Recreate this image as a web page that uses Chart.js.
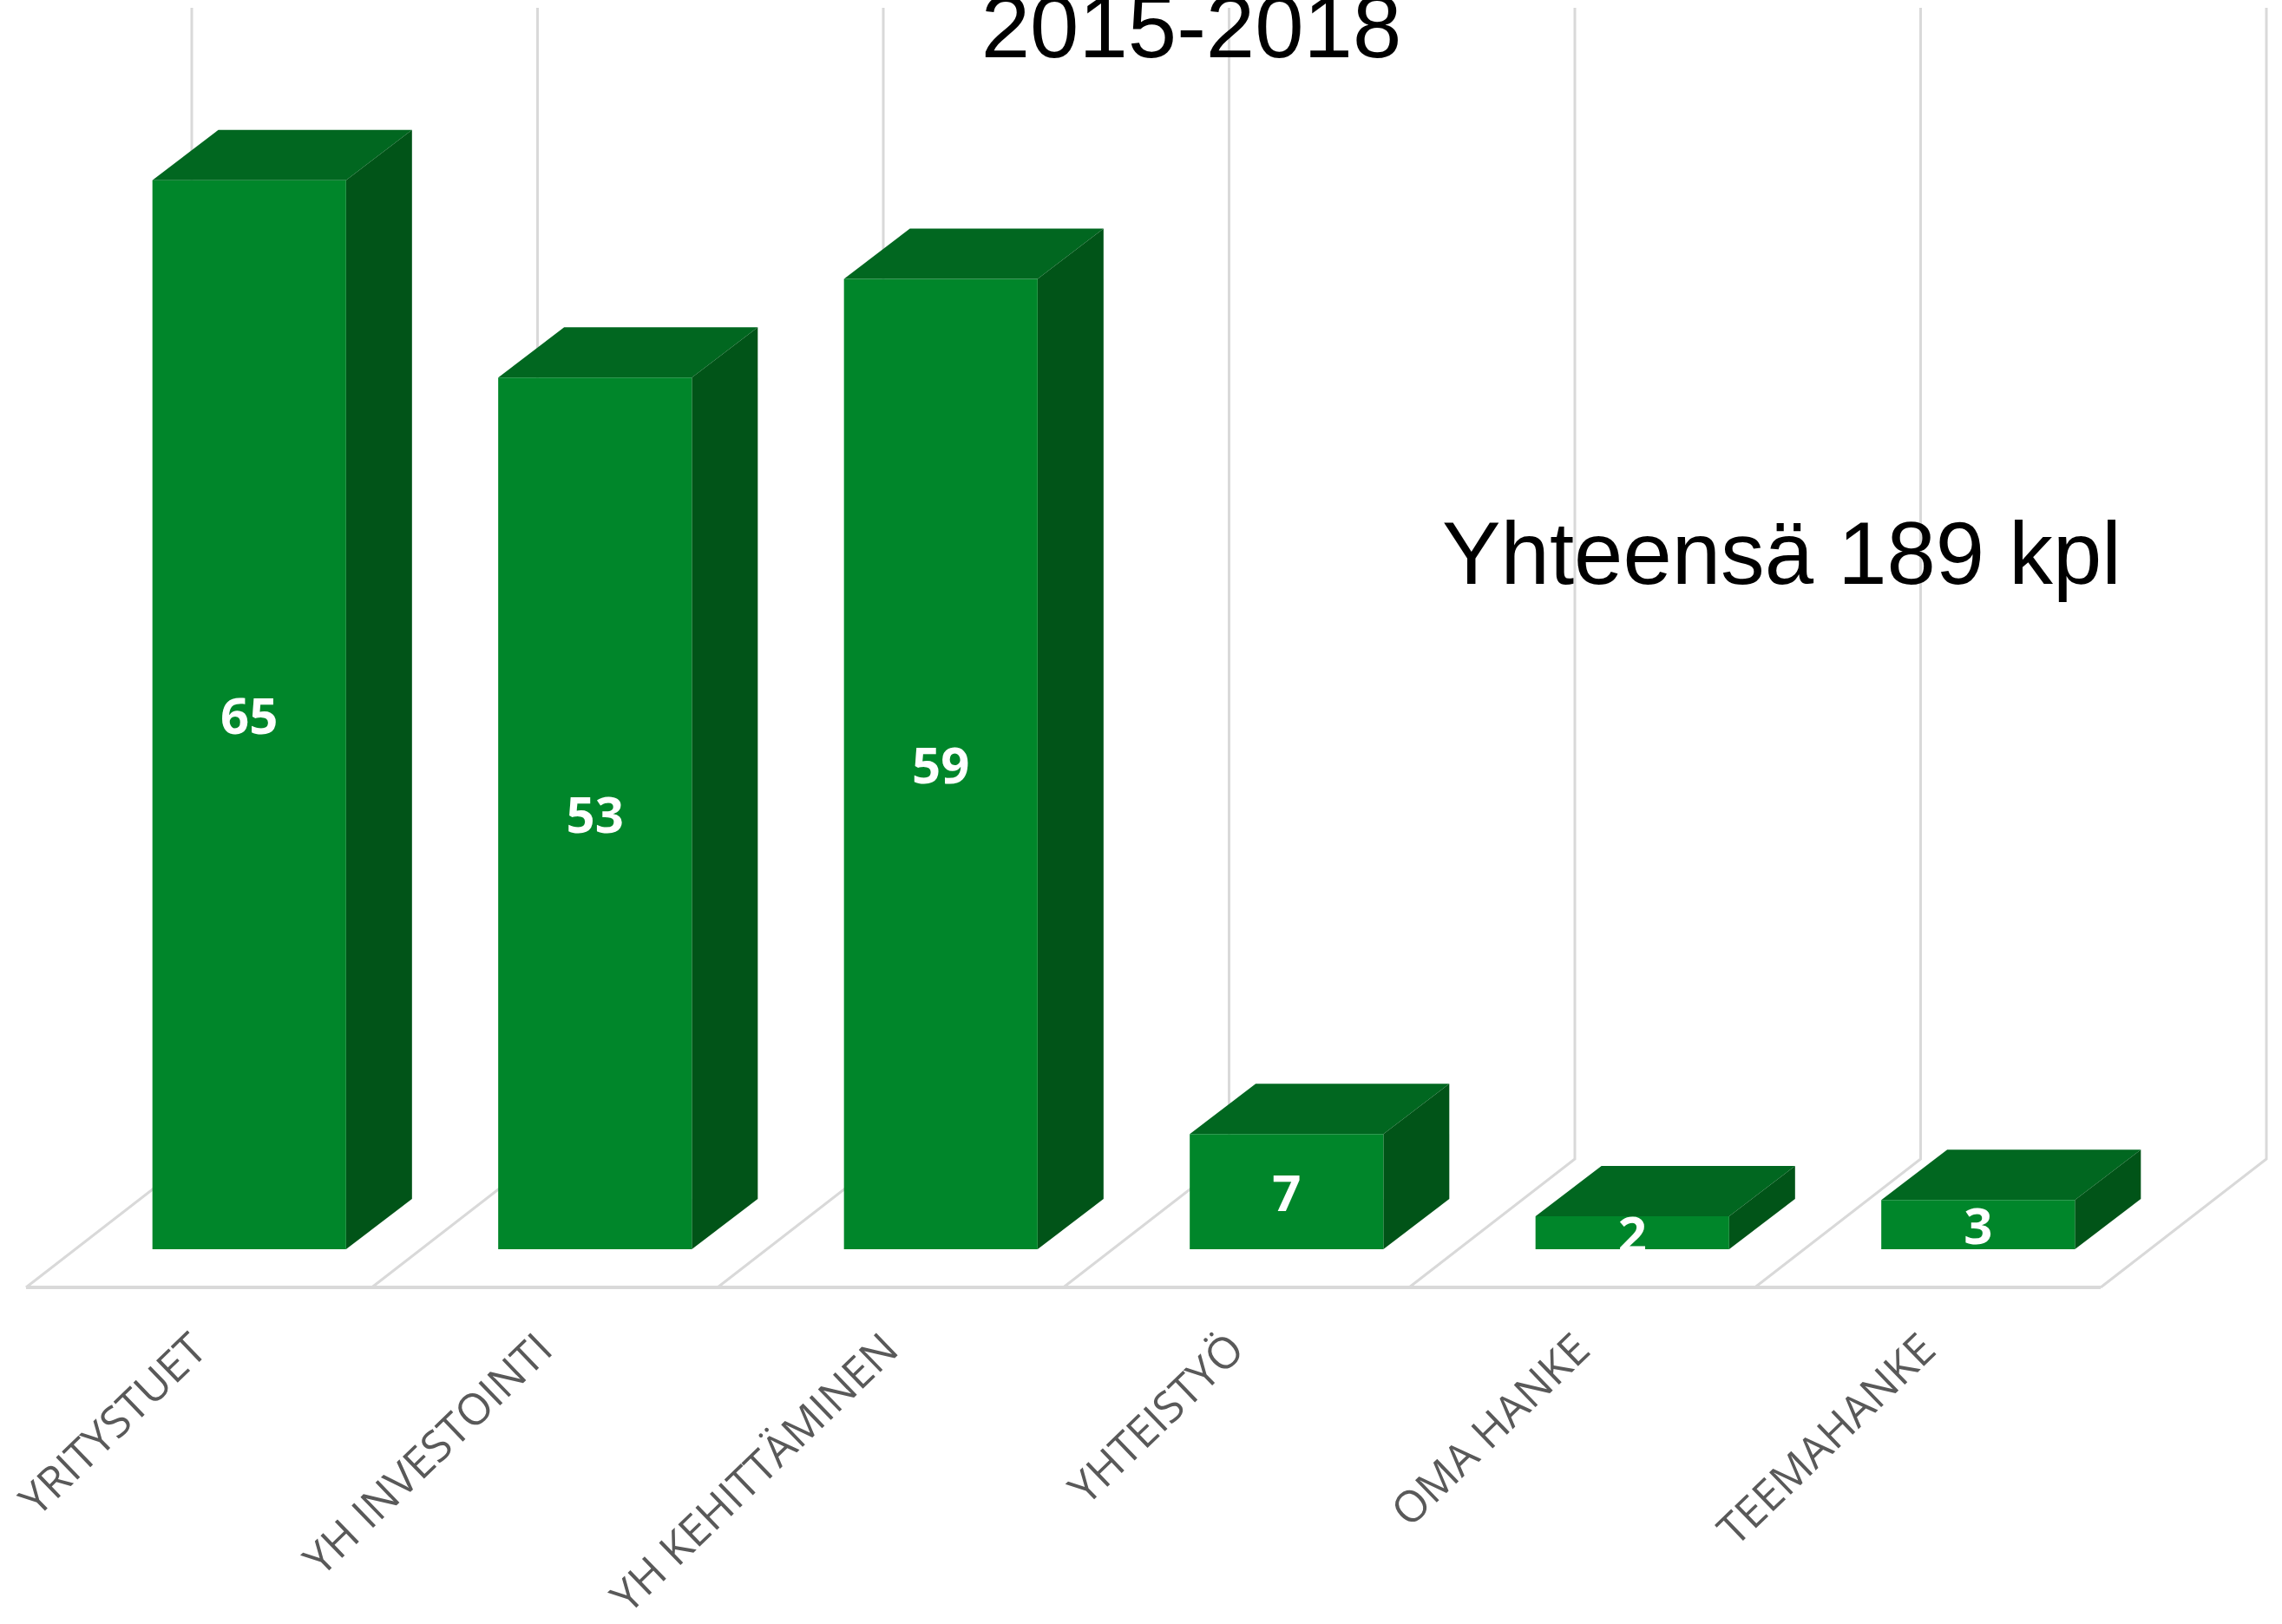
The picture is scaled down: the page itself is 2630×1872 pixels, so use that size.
<!DOCTYPE html>
<html lang="fi">
<head>
<meta charset="utf-8">
<title>2015-2018</title>
<style>html,body{margin:0;padding:0;background:#fff}canvas{display:block}</style>
<script src="https://cdn.jsdelivr.net/npm/chart.js@4/dist/chart.umd.min.js"></script>
</head>
<body>
<canvas id="c" width="2630" height="1872"></canvas>
<script>
const categories = ["YRITYSTUET", "YH INVESTOINTI", "YH KEHITTÄMINEN", "YHTEISTYÖ", "OMA HANKE", "TEEMAHANKE"];
const seriesValues = [65, 53, 59, 7, 2, 3];
const titleText = "2015-2018";
const noteText = "Yhteensä 189 kpl";

const COL_FRONT = "#00862A", COL_TOP = "#016720", COL_SIDE = "#015418", COL_GRID = "#D9D9D9";
const FLOOR_DX = 191, FLOOR_DY = 148;   // floor depth
const BAR_SHIFT_X = 58, BAR_SHIFT_Y = 44; // bar front plane inside floor
const BAR_DX = 76, BAR_DY = 58;         // bar depth
const LABEL_SHIFT_X = 2, LABEL_SHIFT_Y = 2; // nudge of the rotated category labels

function poly(ctx, pts, fill) {
  ctx.beginPath();
  pts.forEach((p, i) => i ? ctx.lineTo(p[0], p[1]) : ctx.moveTo(p[0], p[1]));
  ctx.closePath();
  ctx.fillStyle = fill;
  ctx.fill();
}

const pseudo3d = {
  id: "pseudo3d",
  beforeDatasetsDraw(chart) {
    const { ctx, chartArea: a } = chart;
    const step = (a.right - a.left) / categories.length;
    ctx.save();
    ctx.strokeStyle = COL_GRID;
    ctx.lineWidth = 3;
    for (let i = 0; i <= categories.length; i++) {
      const fx = a.left + i * step;
      ctx.beginPath();
      ctx.moveTo(fx, a.bottom);
      ctx.lineTo(fx + FLOOR_DX, a.bottom - FLOOR_DY);
      ctx.lineTo(fx + FLOOR_DX, a.top - FLOOR_DY);
      ctx.stroke();
    }
    ctx.lineWidth = 4;
    ctx.beginPath();
    ctx.moveTo(a.left, a.bottom);
    ctx.lineTo(a.right, a.bottom);
    ctx.stroke();
    ctx.restore();

    // the bars stand inside the floor: shift everything the dataset draws
    ctx.save();
    ctx.translate(BAR_SHIFT_X, -BAR_SHIFT_Y);
    chart.getDatasetMeta(0).data.forEach(bar => {
      const l = bar.x - bar.width / 2, r = bar.x + bar.width / 2;
      const t = bar.y, b = bar.base;
      poly(ctx, [[l, t], [r, t], [r + BAR_DX, t - BAR_DY], [l + BAR_DX, t - BAR_DY]], COL_TOP);
      poly(ctx, [[r, t], [r + BAR_DX, t - BAR_DY], [r + BAR_DX, b - BAR_DY], [r, b]], COL_SIDE);
    });
  },
  afterDatasetsDraw(chart) {
    const { ctx } = chart;
    ctx.textAlign = "center";
    ctx.textBaseline = "middle";
    ctx.fillStyle = "#FFFFFF";
    ctx.font = "bold 58px 'Open Sans'";
    chart.getDatasetMeta(0).data.forEach((bar, i) => {
      ctx.fillText(String(seriesValues[i]), bar.x, (bar.y + bar.base) / 2 + 6);
    });
    ctx.restore();

    ctx.save();
    ctx.fillStyle = "#000000";
    ctx.font = "101.3px 'Liberation Sans'";
    ctx.textAlign = "center";
    ctx.textBaseline = "alphabetic";
    ctx.fillText(titleText, 1373, 66);
    ctx.textAlign = "left";
    ctx.fillText(noteText, 1662, 673);
    ctx.restore();
  }
};

new Chart(document.getElementById("c"), {
  type: "bar",
  data: {
    labels: categories,
    datasets: [{
      data: seriesValues,
      backgroundColor: COL_FRONT,
      borderWidth: 0,
      categoryPercentage: 1,
      barPercentage: 0.56
    }]
  },
  options: {
    responsive: false,
    animation: false,
    devicePixelRatio: 1,
    layout: { autoPadding: false, padding: { left: 30, right: 209, top: 157, bottom: 0 } },
    plugins: { legend: { display: false }, title: { display: false }, tooltip: { enabled: false } },
    scales: {
      x: {
        grid: { display: false },
        border: { display: false },
        afterFit(s) { s.height = 388; s.paddingLeft = 0; s.paddingRight = 0; },
        afterUpdate(s) {
          if (s._nudged) return;
          s._nudged = true;
          const draw = s.drawLabels;
          s.drawLabels = function (area) {
            this.ctx.save();
            this.ctx.translate(LABEL_SHIFT_X, LABEL_SHIFT_Y);
            draw.call(this, area);
            this.ctx.restore();
          };
        },
        ticks: {
          color: "#595959",
          font: { family: "'Open Sans'", size: 50 },
          minRotation: 44,
          maxRotation: 44,
          autoSkip: false,
          padding: 33
        }
      },
      y: { display: false, min: 0, max: 70 }
    }
  },
  plugins: [pseudo3d]
});
</script>
</body>
</html>
